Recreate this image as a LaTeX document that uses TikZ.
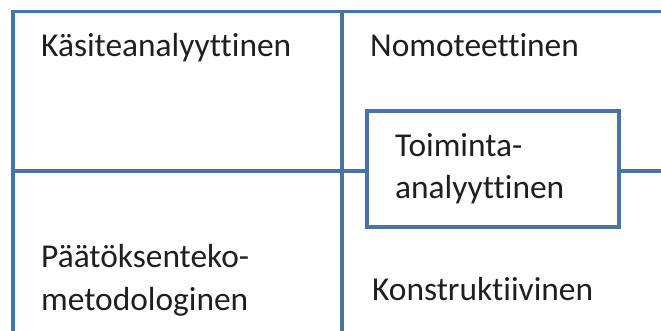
\documentclass[tikz,border=0pt]{standalone}
\usepackage{fontspec}
\setmainfont{Carlito}[Ligatures={NoCommon}]
\definecolor{gridblue}{RGB}{70,116,164}
\begin{document}
\begin{tikzpicture}[x=1pt,y=-1pt,
  gridline/.style={draw=gridblue,line width=3.6pt},
  label/.style={anchor=base west,inner sep=0pt,font=\fontsize{33.4}{42.5}\selectfont,text=black!88,align=left},
  centerbox/.style={draw=gridblue,fill=white,line width=3.6pt,minimum width=252pt,minimum height=116pt,inner sep=0pt}]
  \useasboundingbox (0,0) rectangle (661,331);
  % frame corners and crossings
  \coordinate (tl) at (13,11.5);
  \coordinate (tr) at (661,11.5);
  \coordinate (bl) at (13,331);
  \coordinate (tm) at (342,11.5);
  \coordinate (bm) at (342,331);
  \coordinate (ml) at (13,171);
  \coordinate (mr) at (661,171);
  % outer frame (open to the right and bottom)
  \draw[gridline] (bl) -- (tl) -- (tr);
  % middle vertical divider
  \draw[gridline] (tm) -- (bm);
  % central box
  \node[centerbox] (act) at (493,169) {};
  % middle horizontal divider, interrupted by the box
  \draw[gridline] (ml) -- (act.west |- ml);
  \draw[gridline] (act.east |- mr) -- (mr);
  % quadrant labels (base anchor sits on the last line)
  \node[label] (ka) at (41,57) {Käsiteanalyyttinen};
  \node[label] (no) at (370,57) {Nomoteettinen};
  \node[label] (to) at (395,199) {Toiminta-\\analyyttinen};
  \node[label] (pa) at (41,310) {Päätöksenteko-\\metodologinen};
  \node[label] (ko) at (372,300) {Konstruktiivinen};
\end{tikzpicture}
\end{document}
